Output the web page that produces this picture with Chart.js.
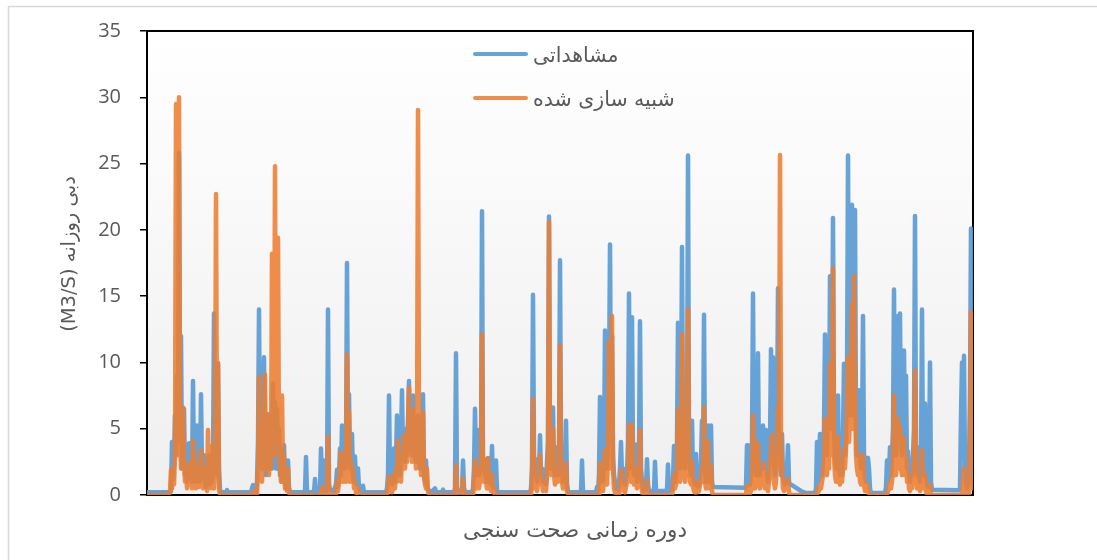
<!DOCTYPE html>
<html lang="fa">
<head>
<meta charset="utf-8">
<title>دبی روزانه</title>
<script src="https://cdn.jsdelivr.net/npm/chart.js@4/dist/chart.umd.min.js"></script>
<style>
  html, body { margin: 0; padding: 0; background: #ffffff; }
  canvas { display: block; }
</style>
</head>
<body>
<canvas id="flowChart" width="1097" height="560"></canvas>
<script>
// Daily discharge over the validation period: [time step, flow m3/s]
const yTicks = [0, 5, 10, 15, 20, 25, 30, 35];
const seriesNames = ['مشاهداتی', 'شبیه سازی شده'];
const yTitle = 'دبی روزانه (M3/S)';
const xTitle = 'دوره زمانی صحت سنجی';
const periodLength = 826;

const observed = [
  [0,0.2],[23,0.2],
  [24,0.3],[25,4.0],[26,1.2],[27,2.5],[28,6.0],[29,3.0],[30,9.0],[31,4.0],[32,25.8],[33,6.0],[34,12.0],[35,2.0],[36,6.0],[37,6.5],[38,1.5],[39,2.0],[40,1.0],[41,2.5],[42,3.9],[43,1.5],[44,2.0],[45,1.0],[46,8.6],[47,2.0],[48,3.0],[49,1.0],[50,5.25],[51,1.5],[52,2.0],[53,1.0],[54,7.6],[55,2.0],[56,1.5],[57,3.0],[58,1.0],[59,0.6],[60,2.0],[61,1.2],[62,3.0],[63,0.8],[64,1.5],[65,1.0],[66,2.0],[67,13.7],[68,2.0],[69,4.0],[70,1.5],[71,9.9],[72,2.0],[73,0.4],[74,0.2],[79,0.2],[80,0.37],[81,0.2],[104,0.2],
  [105,0.5],[106,0.75],[107,0.5],[108,0.3],[109,0.2],[110,1.0],[111,4.0],[112,14.0],[113,3.0],[114,6.0],[115,2.0],[116,5.0],[117,10.4],[118,3.0],[119,1.5],[120,2.5],[121,6.1],[122,2.0],[123,3.0],[124,5.0],[125,2.0],[126,8.4],[127,3.0],[128,7.0],[129,2.0],[130,6.5],[131,3.0],[132,5.0],[133,1.5],[134,3.0],[135,1.0],[136,2.0],[137,3.75],[138,1.0],[139,0.5],[140,1.5],[141,2.6],[142,0.5],[143,0.3],[144,0.2],
  [158,0.2],[159,2.87],[160,0.2],[167,0.2],[168,1.2],[169,0.2],[173,0.3],[174,3.5],[175,0.5],[176,0.3],[177,2.6],[178,0.5],[179,0.3],[180,0.5],[181,14.0],[182,0.8],[183,0.4],[187,0.3],[188,0.6],[189,0.8],[190,1.9],[191,0.6],[192,1.5],[193,3.5],[194,1.5],[195,5.25],[196,2.5],[197,4.0],[198,2.0],[199,3.0],[200,17.5],[201,3.0],[202,7.6],[203,2.0],[204,3.0],[205,4.6],[206,1.5],[207,1.0],[208,2.9],[209,1.0],[210,0.8],[211,2.0],[212,0.5],[213,0.3],[215,0.3],[216,0.7],[217,0.2],
  [239,0.2],[240,0.5],[241,1.5],[242,7.5],[243,1.2],[244,2.0],[245,0.8],[246,1.5],[247,3.5],[248,1.0],[249,2.5],[250,6.0],[251,2.0],[252,3.5],[253,1.5],[254,4.0],[255,7.9],[256,3.0],[257,4.5],[258,2.5],[259,5.0],[260,3.0],[261,5.5],[262,8.6],[263,3.5],[264,4.5],[265,3.0],[266,7.5],[267,3.0],[268,4.0],[269,2.5],[270,5.0],[271,6.0],[272,3.0],[273,2.0],[274,4.0],[275,3.0],[276,7.6],[277,1.5],[278,1.0],[279,2.6],[280,0.8],[281,0.4],[283,0.3],[284,0.2],[288,0.5],[289,0.2],[295,0.2],[296,0.4],[297,0.2],
  [307,0.2],[308,0.5],[309,10.7],[310,0.6],[311,0.3],[315,0.3],[316,2.6],[317,0.5],[318,0.3],[319,0.2],[325,0.2],[326,0.5],[327,2.0],[328,6.5],[329,2.0],[330,1.5],[331,4.9],[332,1.5],[333,2.0],[334,3.0],[335,21.4],[336,2.0],[337,2.7],[338,1.5],[339,2.0],[340,1.0],[341,2.8],[342,1.0],[343,1.5],[344,0.8],[345,3.7],[346,0.8],[347,0.5],[348,1.0],[349,2.6],[350,0.4],[351,0.2],
  [383,0.2],[384,0.5],[385,2.0],[386,15.1],[387,3.0],[388,1.5],[389,2.7],[390,1.0],[391,2.0],[392,1.5],[393,4.5],[394,1.5],[395,2.0],[396,1.0],[397,1.2],[398,1.9],[399,0.8],[400,2.5],[401,4.0],[402,21.0],[403,3.0],[404,2.0],[405,3.5],[406,6.6],[407,2.0],[408,1.5],[409,2.5],[410,3.6],[411,1.5],[412,3.0],[413,17.7],[414,4.0],[415,2.0],[416,1.0],[417,2.5],[418,1.5],[419,5.6],[420,0.8],[421,0.3],[422,0.2],[434,0.2],[435,2.6],[436,0.2],
  [449,0.2],[450,0.6],[451,0.3],[452,1.5],[453,7.4],[454,1.5],[455,2.5],[456,1.0],[457,3.0],[458,12.4],[459,3.4],[460,2.0],[461,4.0],[462,8.0],[463,18.9],[464,6.0],[465,12.0],[466,3.0],[467,1.5],[468,1.0],[469,0.5],[470,0.8],[471,0.4],[472,0.8],[473,2.0],[474,4.0],[475,1.5],[476,2.0],[477,1.0],[478,0.8],[479,2.0],[480,1.5],[481,4.0],[482,15.2],[483,3.0],[484,2.0],[485,13.4],[486,3.0],[487,1.5],[488,2.0],[489,3.8],[490,1.0],[491,1.5],[492,3.0],[493,13.1],[494,2.0],[495,1.0],[496,0.5],[497,0.3],[499,0.5],[500,2.7],[501,0.8],[502,0.3],[507,0.3],[508,2.5],[509,0.3],[520,0.3],[521,2.3],[522,0.3],[525,0.4],[526,1.0],[527,3.7],[528,1.0],[529,1.5],[530,4.0],[531,13.0],[532,3.0],[533,2.0],[534,5.0],[535,18.7],[536,4.0],[537,3.0],[538,2.0],[539,6.0],[540,4.0],[541,25.6],[542,4.0],[543,2.0],[544,1.5],[545,5.6],[546,1.5],[547,1.0],[548,0.8],[549,3.1],[550,0.8],[551,0.6],[552,0.8],[553,1.5],[554,2.5],[555,5.6],[556,2.0],[557,13.6],[558,2.0],[559,1.0],[560,1.5],[561,5.25],[562,1.0],[563,1.2],[564,5.25],[565,1.0],[566,0.6],[598,0.55],
  [599,0.6],[600,3.75],[601,3.75],[602,1.0],[603,0.8],[604,1.5],[605,4.0],[606,15.2],[607,3.0],[608,2.0],[609,1.5],[610,3.0],[611,10.7],[612,2.0],[613,1.5],[614,3.0],[615,2.0],[616,5.25],[617,2.5],[618,2.0],[619,4.9],[620,1.5],[621,1.0],[622,2.5],[623,4.0],[624,11.0],[625,3.0],[626,10.4],[627,2.0],[628,1.5],[629,3.0],[630,4.5],[631,15.6],[632,3.0],[633,4.0],[634,1.5],[635,4.6],[636,1.5],[637,1.0],[638,0.8],[639,1.2],[640,2.0],[641,3.75],[642,1.0],[643,0.8],[645,0.75],[650,0.5],[655,0.25],[658,0.17],
  [668,0.15],[669,0.5],[670,4.0],[671,1.0],[672,1.5],[673,4.6],[674,2.0],[675,1.5],[676,3.0],[677,5.0],[678,12.1],[679,4.0],[680,3.0],[681,10.6],[682,5.0],[683,16.5],[684,5.0],[685,8.0],[686,20.9],[687,5.0],[688,3.0],[689,2.0],[690,3.5],[691,7.5],[692,2.0],[693,1.5],[694,2.5],[695,1.5],[696,4.5],[697,9.9],[698,3.0],[699,5.0],[700,8.0],[701,25.6],[702,6.0],[703,8.0],[704,10.0],[705,21.9],[706,6.0],[707,12.0],[708,21.5],[709,5.0],[710,3.0],[711,4.0],[712,7.9],[713,3.0],[714,2.0],[715,4.0],[716,13.5],[717,3.0],[718,1.5],[719,1.0],[720,2.0],[721,2.8],[722,2.0],[723,0.5],[724,0.15],
  [738,0.15],[739,0.6],[740,2.6],[741,1.0],[742,1.5],[743,3.6],[744,1.5],[745,3.0],[746,5.0],[747,15.5],[748,4.0],[749,3.0],[750,6.0],[751,13.5],[752,5.0],[753,13.7],[754,4.0],[755,3.0],[756,5.0],[757,10.9],[758,4.0],[759,9.0],[760,2.0],[761,3.3],[762,1.5],[763,1.0],[764,2.0],[765,1.5],[766,3.0],[767,5.0],[768,21.05],[769,3.0],[770,1.5],[771,3.6],[772,1.5],[773,1.0],[774,3.0],[775,14.0],[776,2.0],[777,1.5],[778,6.9],[779,1.5],[780,0.8],[781,0.6],[782,2.0],[783,10.0],[784,1.0],[785,0.4],[812,0.35],
  [813,0.5],[814,6.0],[815,10.0],[816,4.0],[817,10.5],[818,2.0],[819,0.8],[820,0.5],[821,0.8],[822,2.0],[823,8.0],[824,20.1],[825,6.0],[826,0.8]
];

const simulated = [
  [0,0],[22,0],[23,0.3],[24,1.9],[25,0.5],[26,1.8],[27,0.8],[28,3.0],[29,29.5],[30,8.0],[31,3.0],[32,30.0],[33,6.0],[34,2.0],[35,4.0],[36,6.6],[37,2.5],[38,1.0],[39,2.0],[40,0.5],[41,1.5],[42,2.4],[43,0.8],[44,1.2],[45,0.5],[46,4.1],[47,1.5],[48,2.8],[49,0.5],[50,1.5],[51,2.0],[52,0.6],[53,1.0],[54,3.4],[55,1.5],[56,0.5],[57,2.0],[58,0.6],[59,1.2],[60,0.3],[61,4.9],[62,1.0],[63,2.0],[64,0.5],[65,3.7],[66,1.0],[67,0.5],[68,2.0],[69,22.7],[70,3.0],[71,10.0],[72,0.5],[73,0],
  [106,0],[107,0.3],[108,0],[110,0],[111,2.0],[112,8.9],[113,1.5],[114,4.5],[115,1.0],[116,3.0],[117,5.0],[118,9.07],[119,2.0],[120,4.0],[121,6.0],[122,1.5],[123,4.0],[124,2.0],[125,18.2],[126,5.0],[127,3.0],[128,24.8],[129,6.0],[130,4.0],[131,19.4],[132,3.0],[133,2.0],[134,1.0],[135,7.5],[136,1.5],[137,3.0],[138,0.5],[139,1.0],[140,0.3],[141,2.0],[142,0.2],[143,0],
  [174,0],[175,0.6],[176,0],[180,0],[181,4.4],[182,0.3],[183,0],[189,0],[190,1.0],[191,0.3],[192,1.2],[193,2.0],[194,3.25],[195,1.0],[196,2.5],[197,1.0],[198,3.0],[199,1.0],[200,10.6],[201,2.0],[202,6.25],[203,1.0],[204,2.5],[205,1.0],[206,2.0],[207,0.5],[208,1.0],[209,0.2],[210,0],[211,0.5],[212,0],
  [240,0],[241,0.5],[242,1.4],[243,0.3],[244,0.8],[245,0.2],[246,0.5],[247,1.5],[248,0.5],[249,2.0],[250,1.0],[251,4.1],[252,1.5],[253,2.5],[254,1.0],[255,3.0],[256,2.0],[257,4.5],[258,2.0],[259,3.5],[260,2.5],[261,5.0],[262,8.1],[263,3.0],[264,4.0],[265,2.5],[266,6.4],[267,3.0],[268,4.5],[269,2.0],[270,3.0],[271,29.05],[272,5.0],[273,3.0],[274,1.5],[275,2.5],[276,6.25],[277,1.5],[278,0.8],[279,0.5],[280,2.0],[281,0.3],[282,0],
  [308,0],[309,2.25],[310,0],[315,0],[316,1.25],[317,0],[326,0],[327,1.0],[328,2.6],[329,1.0],[330,0.5],[331,2.0],[332,0.5],[333,1.5],[334,1.0],[335,12.1],[336,1.5],[337,1.0],[338,2.7],[339,1.0],[340,0.5],[341,2.75],[342,0.5],[343,1.0],[344,0.3],[345,1.5],[346,0.2],[347,0.6],[348,0],
  [384,0],[385,1.0],[386,7.25],[387,1.0],[388,0.5],[389,1.0],[390,0.3],[391,0.8],[392,1.5],[393,3.0],[394,0.8],[395,1.0],[396,0.3],[397,0.5],[398,0.8],[399,0.3],[400,1.5],[401,3.0],[402,20.6],[403,2.5],[404,1.5],[405,2.5],[406,5.0],[407,1.5],[408,0.8],[409,1.5],[410,2.0],[411,1.0],[412,2.5],[413,11.3],[414,2.0],[415,1.0],[416,0.5],[417,1.0],[418,0.5],[419,2.4],[420,0.3],[421,0],
  [452,0],[453,2.4],[454,0.3],[455,1.0],[456,0.3],[457,1.5],[458,3.4],[459,1.0],[460,0.8],[461,3.0],[462,11.6],[463,3.0],[464,2.0],[465,13.5],[466,2.0],[467,0.5],[468,0.2],[469,0],[472,0],[473,0.5],[474,1.9],[475,0.5],[476,0.8],[477,0.3],[478,0.2],[479,0.6],[480,1.0],[481,2.0],[482,5.3],[483,1.5],[484,1.0],[485,5.3],[486,1.5],[487,0.8],[488,1.0],[489,2.0],[490,0.5],[491,0.8],[492,1.5],[493,4.9],[494,1.0],[495,0.3],[496,0],[499,0],[500,1.1],[501,0],[525,0],[526,0.5],[527,1.5],[528,0.5],[529,0.8],[530,2.0],[531,6.4],[532,1.5],[533,1.0],[534,2.5],[535,12.1],[536,2.0],[537,1.5],[538,1.0],[539,3.0],[540,2.0],[541,14.0],[542,2.0],[543,1.0],[544,0.8],[545,2.5],[546,0.6],[547,0.3],[548,0.2],[549,1.0],[550,0.2],[552,0.3],[553,0.8],[554,1.0],[555,2.0],[556,1.0],[557,6.6],[558,1.0],[559,0.5],[560,1.0],[561,4.0],[562,0.5],[563,0.8],[564,2.2],[565,0.3],[566,0],
  [599,0],[600,0.7],[601,0.3],[602,0],[604,0.3],[605,1.0],[606,6.0],[607,1.0],[608,0.5],[609,0.8],[610,1.5],[611,3.9],[612,1.0],[613,0.5],[614,1.0],[615,0.8],[616,1.5],[617,2.4],[618,0.5],[619,1.5],[620,0.5],[621,0.3],[622,1.0],[623,2.0],[624,3.5],[625,4.5],[626,2.0],[627,1.0],[628,0.5],[629,1.0],[630,2.5],[631,6.6],[632,2.0],[633,25.65],[634,4.0],[635,2.0],[636,0.5],[637,0.3],[638,0.5],[639,1.0],[640,0.5],[641,1.2],[642,0.2],[643,0],
  [670,0],[671,0.5],[672,0.3],[673,0.75],[674,0.5],[675,1.0],[676,1.5],[677,2.5],[678,5.75],[679,2.0],[680,1.5],[681,3.0],[682,2.0],[683,9.9],[684,3.0],[685,5.0],[686,17.1],[687,3.0],[688,1.5],[689,1.0],[690,2.0],[691,4.4],[692,1.0],[693,0.8],[694,1.5],[695,1.0],[696,2.0],[697,3.4],[698,2.0],[699,3.5],[700,6.0],[701,10.4],[702,4.0],[703,6.0],[704,8.0],[705,14.4],[706,5.0],[707,16.5],[708,8.0],[709,3.0],[710,2.0],[711,1.5],[712,3.0],[713,1.0],[714,0.8],[715,1.5],[716,3.0],[717,0.8],[718,0.3],[719,0.5],[720,0.8],[721,0.3],[722,0],
  [740,0],[741,0.3],[742,0.5],[743,1.0],[744,0.5],[745,1.0],[746,2.5],[747,7.5],[748,2.0],[749,1.5],[750,3.0],[751,5.75],[752,2.0],[753,5.1],[754,2.0],[755,1.5],[756,2.0],[757,4.3],[758,1.5],[759,3.0],[760,1.0],[761,1.5],[762,0.5],[763,0.3],[764,0.8],[765,0.5],[766,1.5],[767,3.0],[768,9.4],[769,1.5],[770,0.5],[771,1.2],[772,0.5],[773,0.3],[774,1.0],[775,3.4],[776,0.8],[777,0.5],[778,1.5],[779,0.3],[780,0],[782,0],[783,0.75],[784,0],
  [815,0],[816,0.8],[817,2.0],[818,0.5],[819,0],[822,0],[823,4.0],[824,13.8],[825,9.8],[826,0.5]
];

const GREY_TEXT = '#595959';
const ARABIC_FONT = "'DejaVu Sans', 'Noto Sans', sans-serif";
const NUM_FONT = "'Open Sans', 'DejaVu Sans', sans-serif";
const BLUE = 'rgba(91,155,213,0.92)';
const ORANGE = 'rgba(237,125,49,0.88)';

const toXY = rows => rows.map(([x, y]) => ({ x, y }));

// Background, frames, legend and axis titles
const chartDecor = {
  id: 'chartDecor',
  beforeDraw(chart) {
    const { ctx, chartArea: a } = chart;
    ctx.save();
    // outer frame
    ctx.strokeStyle = '#d9d9d9';
    ctx.lineWidth = 1.5;
    ctx.beginPath();
    ctx.moveTo(8.5, 560);
    ctx.lineTo(8.5, 6.5);
    ctx.lineTo(1097, 6.5);
    ctx.stroke();
    // plot area gradient
    const g = ctx.createLinearGradient(0, a.top, 0, a.bottom);
    g.addColorStop(0, '#ffffff');
    g.addColorStop(1, '#efefef');
    ctx.fillStyle = g;
    ctx.fillRect(a.left, a.top, a.right - a.left, a.bottom - a.top);
    ctx.restore();
  },
  beforeDatasetsDraw(chart) {
    const { ctx, chartArea: a } = chart;
    ctx.save();
    ctx.strokeStyle = '#000000';
    ctx.lineWidth = 2;
    ctx.strokeRect(a.left, a.top, a.right - a.left, a.bottom - a.top);
    ctx.restore();
  },
  afterDraw(chart) {
    const { ctx } = chart;
    ctx.save();
    ctx.fillStyle = GREY_TEXT;
    ctx.direction = 'rtl';

    // legend
    const entries = chart.data.datasets;
    const rowsY = [54, 98];
    entries.forEach((ds, i) => {
      const y = rowsY[i];
      ctx.strokeStyle = ds.borderColor;
      ctx.lineWidth = 4;
      ctx.lineCap = 'round';
      ctx.beginPath();
      ctx.moveTo(475, y);
      ctx.lineTo(526, y);
      ctx.stroke();
      ctx.font = '20.5px ' + ARABIC_FONT;
      ctx.textAlign = 'left';
      ctx.textBaseline = 'middle';
      ctx.fillText(ds.label, 533, y + 3);
    });

    // y axis title
    ctx.save();
    ctx.translate(70, 254);
    ctx.rotate(-Math.PI / 2);
    ctx.font = '19.5px ' + ARABIC_FONT;
    ctx.textAlign = 'center';
    ctx.textBaseline = 'middle';
    ctx.fillText(yTitle, 0, 0);
    ctx.restore();

    // x axis title
    ctx.font = '21.5px ' + ARABIC_FONT;
    ctx.textAlign = 'center';
    ctx.textBaseline = 'middle';
    ctx.fillText(xTitle, 575, 531);
    ctx.restore();
  }
};

new Chart(document.getElementById('flowChart'), {
  type: 'line',
  data: {
    datasets: [
      {
        label: seriesNames[0],
        data: toXY(observed),
        borderColor: BLUE,
        borderWidth: 4.5,
        pointRadius: 0,
        tension: 0,
        fill: false,
        borderCapStyle: 'round',
        borderJoinStyle: 'round',
        order: 1
      },
      {
        label: seriesNames[1],
        data: toXY(simulated),
        borderColor: ORANGE,
        borderWidth: 4.5,
        pointRadius: 0,
        tension: 0,
        fill: false,
        borderCapStyle: 'round',
        borderJoinStyle: 'round',
        order: 0
      }
    ]
  },
  options: {
    responsive: false,
    animation: false,
    devicePixelRatio: 1,
    layout: { padding: { left: 0, top: 28, right: 124, bottom: 65 } },
    plugins: { legend: { display: false }, tooltip: { enabled: false } },
    scales: {
      x: {
        type: 'linear',
        min: 0,
        max: periodLength,
        display: false
      },
      y: {
        min: yTicks[0],
        max: yTicks[yTicks.length - 1],
        afterBuildTicks(scale) { scale.ticks = yTicks.map(v => ({ value: v })); },
        afterFit(scale) { scale.width = 147; },
        ticks: {
          color: GREY_TEXT,
          padding: 19,
          font: { family: NUM_FONT, size: 20 }
        },
        grid: {
          drawOnChartArea: false,
          drawTicks: true,
          tickLength: 7,
          color: '#000000',
          lineWidth: 1.5
        },
        border: { display: true, color: '#000000', width: 2 }
      }
    }
  },
  plugins: [chartDecor]
});
</script>
</body>
</html>
